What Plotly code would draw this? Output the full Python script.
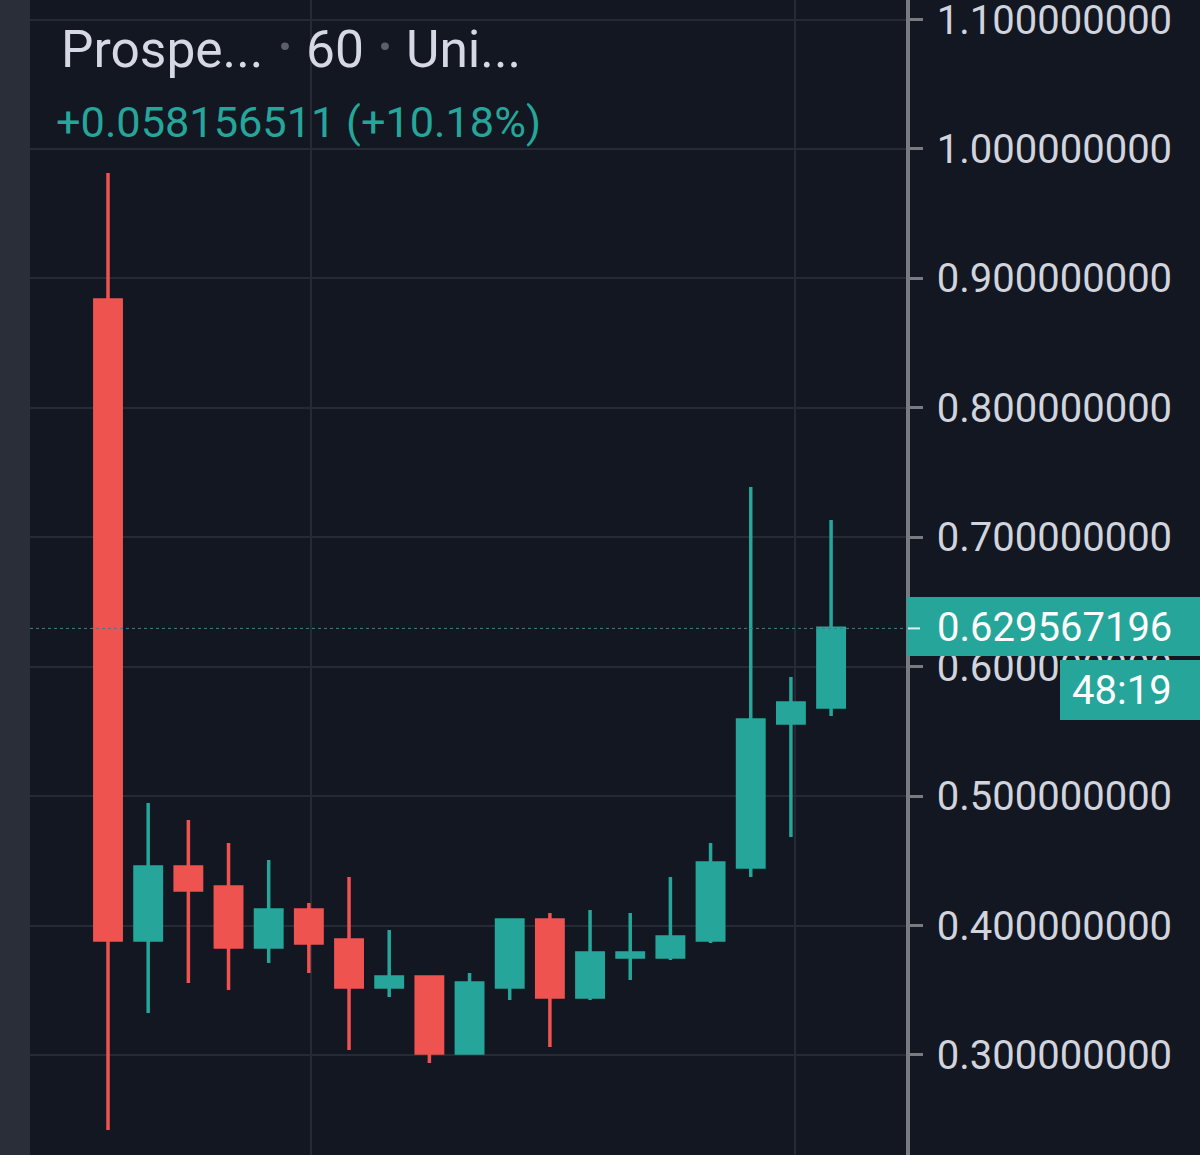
import plotly.graph_objects as go

# candele
candele = list(range(19))
open_ = [.8833, .3889, .4453, .4298, .3834, .4120, .3889, .3525, .3603, .3016, .3525, .4043, .3448, .3757, .3757, .3889, .4453, .5565, .5689]
high = [.9815, .4947, .4816, .4638, .4507, .4174, .4375, .3966, .3603, .3634, .4043, .4097, .4120, .4097, .4375, .4638, .7389, .5921, .7134]
low = [.2421, .3325, .3556, .3502, .3711, .3634, .3039, .3448, .2938, .3016, .3425, .3062, .3425, .3580, .3734, .3865, .4375, .4684, .5619]
close = [.3889, .4453, .4275, .3834, .4120, .3865, .3525, .3603, .3016, .3556, .4043, .3448, .3788, .3788, .3912, .4483, .5588, .5720, .6296]

tick_vals = [1.1, 1.0, 0.9, 0.8, 0.7, 0.6, 0.5, 0.4, 0.3]
tick_text = ["1.100000000", "1.000000000", "0.900000000", "0.800000000", "0.700000000",
             "0.600000000", "0.500000000", "0.400000000", "0.300000000"]
griglia_x = [5.05, 17.1]

ultimo_prezzo = 0.629567196
etichetta_prezzo = "0.629567196"
countdown = "48:19"
variazione = "+0.058156511 (+10.18%)"

W, H = 1200, 1155
VERDE = "#26a69a"
ROSSO = "#ef5350"
SFONDO = "#131722"
GRIGLIA = "#262a35"
ASSE = "#787b80"


def px(x):
    return x / W


def py(y):
    return 1 - y / H


fig = go.Figure(go.Candlestick(
    x=candele, open=open_, high=high, low=low, close=close,
    whiskerwidth=0,
    increasing=dict(line=dict(color=VERDE, width=3.5), fillcolor=VERDE),
    decreasing=dict(line=dict(color=ROSSO, width=3.5), fillcolor=ROSSO),
))


def box(x0, y0, x1, y1, colore):
    fig.add_shape(type="rect", xref="paper", yref="paper", x0=px(x0), x1=px(x1), y0=py(y0), y1=py(y1),
                  fillcolor=colore, line_width=0, layer="above")


def testo(x, y, t, size, colore, anchor="left"):
    fig.add_annotation(xref="paper", yref="paper", x=px(x), y=py(y), text=t, showarrow=False,
                       xanchor=anchor, yanchor="middle", font=dict(family="Roboto", size=size, color=colore))


# linea tratteggiata dell'ultimo prezzo
fig.add_shape(type="line", xref="paper", yref="y", x0=px(30), x1=px(908), y0=ultimo_prezzo, y1=ultimo_prezzo,
              line=dict(color="#3f7f80", width=1, dash="dot"), layer="above")

box(0, 0, 30, H, "#2a2e39")
box(907, 597, W, 656, VERDE)
box(1060, 660, W, 720, VERDE)
fig.add_shape(type="line", xref="paper", yref="y", x0=px(908), x1=px(920), y0=ultimo_prezzo, y1=ultimo_prezzo,
              line=dict(color="#d8f2ef", width=2), layer="above")

testo(59, 49, "Prospe...", 51.5, "#d6d8e5")
testo(285, 47, "·", 70, "#5d606b", "center")
testo(304, 49, "60", 51.5, "#d6d8e5")
testo(385, 47, "·", 70, "#5d606b", "center")
testo(404, 49, "Uni...", 51.5, "#d6d8e5")
testo(54, 122, variazione, 43.3, VERDE)
testo(1174, 627, etichetta_prezzo, 40, "#ffffff", "right")
testo(1174, 690, countdown, 40, "#ffffff", "right")

fig.update_layout(
    width=W, height=H,
    margin=dict(l=0, r=0, t=0, b=0, autoexpand=False),
    paper_bgcolor=SFONDO,
    plot_bgcolor=SFONDO,
    showlegend=False,
    boxgap=0.1,
    boxgroupgap=0.27,
    xaxis=dict(domain=[px(30), px(906)], range=[-1.942, 19.865], rangeslider=dict(visible=False),
               tickmode="array", tickvals=griglia_x, showticklabels=False, ticks="",
               showgrid=True, gridcolor=GRIGLIA, gridwidth=1.5, zeroline=False),
    yaxis=dict(side="right", range=[0.2227, 1.1151], tickmode="array", tickvals=tick_vals, ticktext=tick_text,
               ticks="outside", ticklen=13, tickwidth=3, tickcolor=ASSE, ticklabelstandoff=6,
               ticklabeloverflow="allow",
               showline=True, linecolor=ASSE, linewidth=3.5,
               showgrid=True, gridcolor=GRIGLIA, gridwidth=1.5, zeroline=False,
               tickfont=dict(family="Roboto", size=40, color="#d1d4dc")),
)

fig.write_html("out.html", config={"displayModeBar": False}, post_script="document.body.style.margin='0';")
